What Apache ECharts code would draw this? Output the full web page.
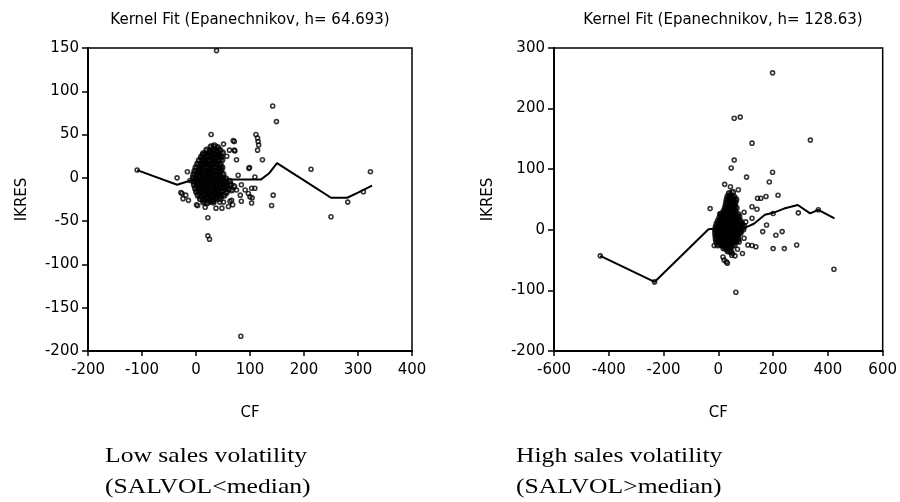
<!DOCTYPE html>
<html>
<head>
<meta charset="utf-8">
<script src="https://cdn.jsdelivr.net/npm/echarts@6/dist/echarts.min.js"></script>
<style>
html,body{margin:0;padding:0;background:#fff;}
#chart{width:900px;height:502px;}
</style>
</head>
<body>
<div id="chart"></div>
<script>
// ---------- Titles / labels ----------
var leftTitle = 'Kernel Fit (Epanechnikov, h= 64.693)';
var rightTitle = 'Kernel Fit (Epanechnikov, h= 128.63)';
var leftCaption = ['Low sales volatility', '(SALVOL<median)'];
var rightCaption = ['High sales volatility', '(SALVOL>median)'];
var xName = 'CF';
var yName = 'IKRES';

// ---------- Low volatility panel (CF, IKRES) ----------
var lowOutliers = [
  [38,147],[142,83],[149,65],[28,50],[111,50],[114,46],[115,42],[116,38],[114,32],[71,42],
  [123,21],[99,12],[109,1],[213,10],[323,7],[-35,0],[-16,7],[-109,9],[143,-20],[-28,-17],
  [-24,-24],[-14,-26],[3,-32],[22,-46],[22,-67],[25,-71],[83,-183],[140,-32],[250,-45],[281,-28],
  [310,-16],[109,-12],[104,-23],[103,-29],[84,-27],[68,-31],[63,-27],[51,-28],[37,-35],[97,-18],
  [91,-14],[82,-20],[69,43],[51,39],[62,32],[71,32],[72,31],[57,25],[12,27],[75,21],[98,11],[78,3],
  [-11,-3],[-26,-18],[-19,-20],[1,-31],[32,-27],[44,-28],[66,-26],[100,-22],[103,-12],
  [84,-8],[75,-14],[60,-33],[17,-34],[48,-35]
];
var lowCluster = [
  [28,36],[34,37],[40,35],
  [20,32],[26,31],[32,33],[38,31],[44,32],
  [14,28],[19,27],[25,29],[31,27],[37,28],[43,27],[49,29],
  [10,24],[16,23],[22,25],[28,24],[34,23],[40,25],[46,24],
  [6,20],[12,21],[18,19],[24,20],[30,21],[36,19],[42,20],[48,21],
  [3,16],[9,15],[15,17],[21,16],[27,15],[33,17],[39,16],[45,15],
  [0,12],[6,11],[12,13],[18,12],[24,11],[30,13],[36,12],[42,11],[48,12],
  [-2,8],[4,7],[10,9],[16,8],[22,7],[28,9],[34,8],[40,7],[46,9],
  [-4,4],[2,3],[8,5],[14,4],[20,3],[26,5],[32,4],[38,3],[44,5],[50,4],
  [-5,0],[1,-1],[7,1],[13,0],[19,-1],[25,1],[31,0],[37,-1],[43,1],[49,0],[55,-1],
  [-4,-4],[2,-5],[8,-3],[14,-4],[20,-5],[26,-3],[32,-4],[38,-5],[44,-3],[50,-4],[56,-5],[62,-4],
  [-3,-8],[3,-9],[9,-7],[15,-8],[21,-9],[27,-7],[33,-8],[39,-9],[45,-7],[51,-8],[57,-9],[64,-8],[70,-10],
  [-1,-12],[5,-13],[11,-11],[17,-12],[23,-13],[29,-11],[35,-12],[41,-13],[47,-11],[53,-12],[60,-13],[66,-14],
  [1,-16],[7,-17],[13,-15],[19,-16],[25,-17],[31,-15],[37,-16],[43,-17],[49,-15],[56,-17],
  [4,-20],[10,-21],[16,-19],[22,-20],[28,-21],[34,-19],[40,-20],[46,-21],[52,-20],
  [8,-24],[14,-25],[20,-23],[26,-24],[32,-25],[38,-23],[44,-24],
  [14,-28],[20,-29],[26,-27],[32,-28]
];
var lowFit = [
  [-109,9],[-35,-8],[-10,-3],[20,-2],[60,-2],[100,-2],[120,-2],[135,5],[150,17],
  [200,-3],[250,-23],[280,-23],[300,-17],[326,-9]
];

// ---------- High volatility panel (CF, IKRES) ----------
var highOutliers = [
  [-431,-43],[-233,-86],[198,259],[58,184],[80,186],[123,143],[336,148],[58,115],[47,102],[103,87],
  [198,95],[186,79],[23,75],[44,71],[73,66],[218,57],[174,55],[155,52],[143,52],[-30,35],
  [5,26],[123,38],[141,34],[94,29],[200,27],[292,28],[365,33],[176,8],[162,-3],[210,-9],
  [233,-3],[200,-31],[241,-31],[286,-25],[422,-65],[108,-25],[123,-26],[137,-28],[88,-39],[70,-32],
  [61,-43],[49,-42],[21,-50],[29,-53],[33,-55],[64,-103],[-15,-26],[76,-20],[9,27],[123,19],
  [100,13],[82,-3],[94,-14],[17,-45],[52,-39]
];
var highCluster = [
  [40,60],[52,62],
  [35,55],[46,56],[57,54],
  [32,50],[43,51],[54,49],[64,50],
  [30,45],[40,46],[51,44],[61,45],
  [28,40],[38,41],[48,39],[58,40],
  [25,35],[35,36],[45,34],[55,35],[65,36],
  [20,30],[30,31],[40,29],[50,30],[60,31],
  [12,25],[22,26],[32,24],[42,25],[52,26],[62,24],[72,25],
  [5,20],[15,21],[25,19],[35,20],[45,21],[55,19],[65,20],[75,21],
  [0,15],[10,16],[20,14],[30,15],[40,16],[50,14],[60,15],[70,16],[80,14],
  [-5,10],[5,11],[15,9],[25,10],[35,11],[45,9],[55,10],[65,11],[75,9],[85,10],
  [-8,5],[2,6],[12,4],[22,5],[32,6],[42,4],[52,5],[62,6],[72,4],[82,5],[92,6],
  [-10,0],[0,1],[10,-1],[20,0],[30,1],[40,-1],[50,0],[60,1],[70,-1],[80,0],[90,1],
  [-10,-5],[0,-4],[10,-6],[20,-5],[30,-4],[40,-6],[50,-5],[60,-4],[70,-6],[80,-5],
  [-9,-10],[1,-9],[11,-11],[21,-10],[31,-9],[41,-11],[51,-10],[61,-9],[71,-11],
  [-8,-15],[2,-14],[12,-16],[22,-15],[32,-14],[42,-16],[52,-15],[62,-14],[72,-16],
  [-6,-20],[4,-19],[14,-21],[24,-20],[34,-19],[44,-21],[54,-20],[64,-19],
  [-2,-25],[8,-24],[18,-26],[28,-25],[38,-24],[48,-26],[58,-25],
  [20,-30],[30,-31],[42,-30],
  [35,-35],[45,-36]
];
var highFit = [
  [-431,-43],[-233,-86],[-36,1],[-10,2],[20,0],[60,0],[100,4],[130,10],[170,25],
  [200,28],[240,35],[290,41],[335,27],[365,33],[424,19]
];

// ---------- Axis ranges ----------
var lowX = {min:-200, max:400, interval:100};
var lowY = {min:-200, max:150, interval:50};
var highX = {min:-600, max:600, interval:200};
var highY = {min:-200, max:300, interval:100};

var chart = echarts.init(document.getElementById('chart'), null, {renderer:'canvas'});
var sansFont = 'DejaVu Sans';

function xAxisCfg(r, gi){
  return {
    type:'value', gridIndex:gi, min:r.min, max:r.max, interval:r.interval,
    name:xName, nameLocation:'middle', nameGap:55,
    nameTextStyle:{color:'#000', fontFamily:sansFont, fontSize:15},
    axisLine:{show:true, onZero:false, lineStyle:{color:'#000', width:2}},
    axisTick:{show:true, inside:false, length:5, lineStyle:{color:'#000', width:1.5}},
    axisLabel:{color:'#000', fontFamily:sansFont, fontSize:15, margin:12},
    splitLine:{show:false}
  };
}
function yAxisCfg(r, gi){
  return {
    type:'value', gridIndex:gi, min:r.min, max:r.max, interval:r.interval,
    name:yName, nameLocation:'middle', nameGap:58, nameRotate:90,
    nameTextStyle:{color:'#000', fontFamily:sansFont, fontSize:15},
    axisLine:{show:true, onZero:false, lineStyle:{color:'#000', width:2}},
    axisTick:{show:true, inside:false, length:6, lineStyle:{color:'#000', width:1.5}},
    axisLabel:{color:'#000', fontFamily:sansFont, fontSize:15, margin:9},
    splitLine:{show:false}
  };
}
function scatter(data, gi, size, bw){
  return {type:'scatter', xAxisIndex:gi, yAxisIndex:gi, data:data, symbol:'circle',
    symbolSize:size, silent:true, z:3,
    itemStyle:{color:'rgba(255,255,255,0)', borderColor:'#000', borderWidth:bw}};
}
function fit(data, gi){
  return {type:'line', xAxisIndex:gi, yAxisIndex:gi, data:data, showSymbol:false,
    lineStyle:{color:'#000', width:2}, silent:true, z:4};
}
function txt(x, y, text, font, align, sx){
  return {type:'text', x:x, y:y, scaleX:sx||1, silent:true,
    style:{text:text, font:font, fill:'#000', align:align, verticalAlign:'middle',
      textAlign:align, textVerticalAlign:'middle'}};
}

chart.setOption({
  animation:false,
  backgroundColor:'#fff',
  grid:[
    {left:88, top:48, width:324, height:303, show:true, borderColor:'#000', borderWidth:1.5, backgroundColor:'transparent'},
    {left:554, top:48, width:339, height:303, show:true, borderColor:'#000', borderWidth:1.5, backgroundColor:'transparent'}
  ],
  xAxis:[xAxisCfg(lowX,0), xAxisCfg(highX,1)],
  yAxis:[yAxisCfg(lowY,0), yAxisCfg(highY,1)],
  series:[
    scatter(lowCluster,0,4.5,2.6), scatter(lowOutliers,0,4,1.6), fit(lowFit,0),
    scatter(highCluster,1,4.5,2.6), scatter(highOutliers,1,4,1.6), fit(highFit,1)
  ],
  graphic:[
    txt(250, 20, leftTitle, '15px "DejaVu Sans"', 'center'),
    txt(723, 20, rightTitle, '15px "DejaVu Sans"', 'center'),
    txt(105, 456, leftCaption[0], '21px "Liberation Serif"', 'left', 1.22),
    txt(105, 487, leftCaption[1], '21px "Liberation Serif"', 'left', 1.22),
    txt(516, 456, rightCaption[0], '21px "Liberation Serif"', 'left', 1.22),
    txt(516, 487, rightCaption[1], '21px "Liberation Serif"', 'left', 1.22)
  ]
});
</script>
</body>
</html>
